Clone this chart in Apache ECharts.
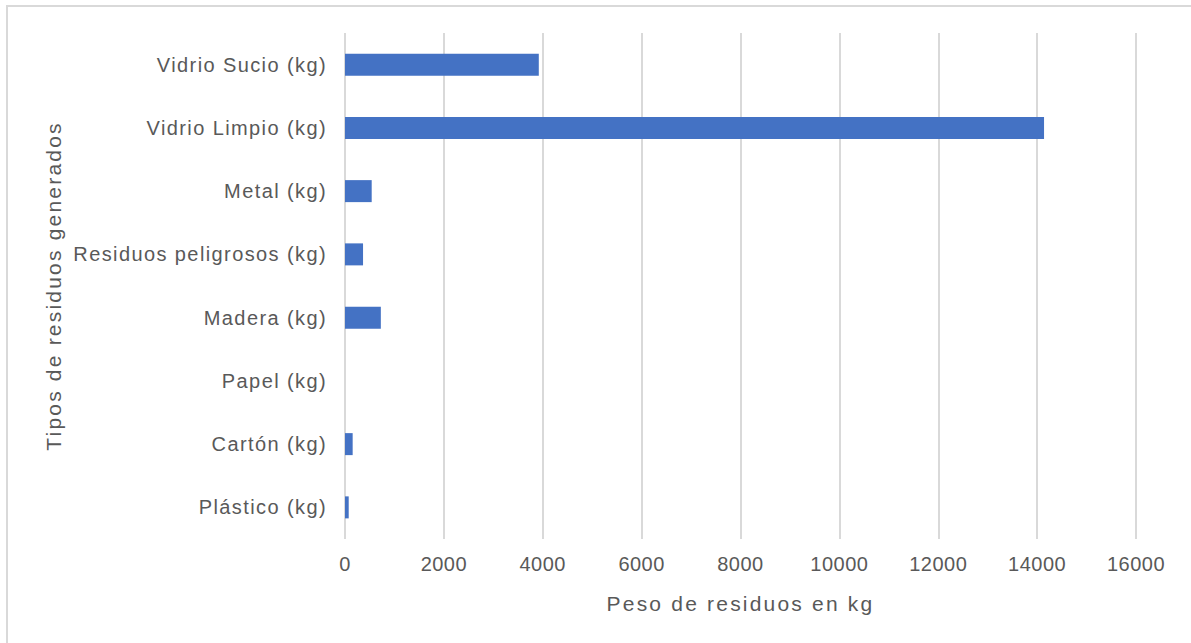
<!DOCTYPE html>
<html>
<head>
<meta charset="utf-8">
<script src="https://cdn.jsdelivr.net/npm/echarts@6.0.0/dist/echarts.min.js"></script>
<style>
  html, body { margin: 0; padding: 0; background: #fff; }
  #frame { position: absolute; left: 6px; top: 5px; width: 1200px; height: 660px; border-top: 2px solid #d9d9d9; border-left: 2px solid #d9d9d9; }
  #chart { position: absolute; left: 0; top: 0; width: 1191px; height: 643px; }
</style>
</head>
<body>
<div id="frame"></div>
<div id="chart"></div>
<script>
// categories listed bottom to top (category axis runs upward)
const categories = ['Plástico (kg)', 'Cartón (kg)', 'Papel (kg)', 'Madera (kg)', 'Residuos peligrosos (kg)', 'Metal (kg)', 'Vidrio Limpio (kg)', 'Vidrio Sucio (kg)']
const pesos = [75, 155, 0, 725, 365, 540, 14140, 3920]
const xTicks = [0, 2000, 4000, 6000, 8000, 10000, 12000, 14000, 16000]
const xName = 'Peso de residuos en kg'
const yName = 'Tipos de residuos generados'

const textColor = '#595959'
const font = '"Liberation Sans", Arial, sans-serif'

const chart = echarts.init(document.getElementById('chart'), null, { renderer: 'svg' })

// the source font runs wider than Arial, so open the letters up a bit
chart.on('rendered', () => {
  document.querySelectorAll('#chart text').forEach(el => {
    const s = el.textContent
    if (categories.includes(s)) el.style.letterSpacing = '1.4px'
    else if (s === xName || s === yName) el.style.letterSpacing = '2.2px'
    else el.style.letterSpacing = '0.5px'
  })
})

chart.setOption({
  animation: false,
  grid: { left: 345, right: 55, top: 33, bottom: 104 },
  xAxis: {
    type: 'value',
    min: xTicks[0],
    max: xTicks[xTicks.length - 1],
    interval: 2000,
    name: xName,
    nameLocation: 'middle',
    nameGap: 54,
    nameTextStyle: { color: textColor, fontSize: 21, fontFamily: font },
    axisLine: { show: false },
    axisTick: { show: false },
    axisLabel: { color: textColor, fontSize: 20, fontFamily: font, margin: 15, formatter: v => String(v) },
    splitLine: { lineStyle: { color: '#d9d9d9', width: 2 } }
  },
  yAxis: {
    type: 'category',
    data: categories,
    name: yName,
    nameLocation: 'middle',
    nameGap: 281,
    nameTextStyle: { color: textColor, fontSize: 21, fontFamily: font },
    axisLine: { show: false },
    axisTick: { show: false },
    axisLabel: { color: textColor, fontSize: 20, fontFamily: font, margin: 18 },
    splitLine: { show: false }
  },
  series: [{
    type: 'bar',
    data: pesos,
    barWidth: 22,
    itemStyle: { color: '#4472c4' }
  }]
})
</script>
</body>
</html>
